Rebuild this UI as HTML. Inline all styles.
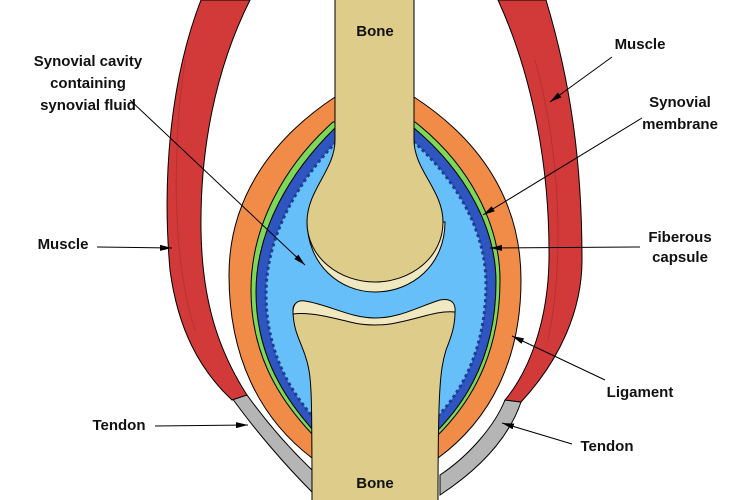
<!DOCTYPE html>
<html><head><meta charset="utf-8"><style>
html,body{margin:0;padding:0;background:#fff}
svg{display:block}
text{font-family:"Liberation Sans",Arial,sans-serif;font-weight:bold;font-size:15px;fill:#111}
</style></head><body>
<svg width="750" height="500" viewBox="0 0 750 500" xmlns="http://www.w3.org/2000/svg">
<defs>
<marker id="ah" markerWidth="12" markerHeight="6" refX="12" refY="3" orient="auto" markerUnits="userSpaceOnUse">
<path d="M0,0 L12,3 L0,6 Z" fill="#000"/>
</marker>
</defs>
<!-- tendons -->
<path d="M232,398 C255,430 285,465 312,492 L312,470 C288,447 265,420 247,395 Z" fill="#b5b5b5" stroke="#000" stroke-width="1"/>
<path d="M505,400 C495,425 470,455 440,475 L440,495 C478,470 508,440 521,402 Z" fill="#b5b5b5" stroke="#000" stroke-width="1"/>
<!-- muscles -->
<path d="M201,0 C170,80 162,180 170,270 C178,330 200,370 232,400 L247,395 C218,350 202,300 201,230 C200,150 215,70 250,0 Z" fill="#d23a3a" stroke="#000" stroke-width="1"/>
<path d="M498,0 C530,70 550,160 549,260 C548,320 530,370 505,400 L521,402 C560,360 582,310 582,260 C582,160 570,80 546,0 Z" fill="#d23a3a" stroke="#000" stroke-width="1"/>
<path d="M185,60 C172,150 172,260 195,330 M535,60 C560,150 565,260 548,340" fill="none" stroke="#b83030" stroke-width="1"/>
<!-- capsule -->
<path d="M335,97 C270,140 229,200 229,275 C229,360 262,420 312,458 L438,458 C490,420 521,360 521,280 C521,200 480,140 414,97 Z" fill="#f08c48" stroke="#000" stroke-width="1"/>
<!-- green membrane -->
<path d="M333,122 C285,165 251,225 251,290 C251,350 275,395 313,435 L438,435 C478,395 500,345 500,280 C500,225 470,165 415,122 Z" fill="#7ed858" stroke="#000" stroke-width="1"/>
<!-- dark blue lining -->
<path d="M335,128 C290,172 256,230 256,292 C256,350 280,393 313,430 L438,430 C474,393 496,345 496,282 C496,228 466,172 414,128 Z" fill="#2f56c0" stroke="#000" stroke-width="1"/>
<!-- cavity -->
<path d="M336,142 C298,182 266,236 266,294 C266,350 289,390 314,418 L436,418 C464,390 486,345 486,284 C486,232 458,182 414,142 Z" fill="#66bff8" stroke="#1e3c90" stroke-width="3" stroke-dasharray="3 3"/>
<!-- top bone cartilage -->
<path d="M307,220 C307,265 340,292 375,292 C412,292 445,265 445,222 L440,222 C430,250 410,270 375,270 C340,270 318,250 312,222 Z" fill="#f0e8c0" stroke="#000" stroke-width="1"/>
<!-- top bone -->
<path d="M335,-2 L335,140 C335,170 307,190 307,222 C307,258 340,282 375,282 C410,282 443,258 443,222 C443,190 414,170 414,140 L414,-2" fill="#ddcc8a" stroke="#000" stroke-width="1"/>
<!-- bottom bone -->
<path d="M293,310 C293,330 300,340 305,355 C312,375 312,390 312,502 L438,502 C438,390 440,370 446,350 C452,335 455,325 455,312 C455,300 448,298 440,302 C420,312 400,322 375,322 C350,322 325,305 305,302 C297,301 293,304 293,310 Z" fill="#ddcc8a" stroke="#000" stroke-width="1"/>
<path d="M293,312 C293,303 298,300 305,301 C330,305 350,318 375,318 C400,318 420,306 440,300 C450,298 456,302 455,312 C440,310 420,318 400,322 C385,326 365,326 350,322 C330,317 310,312 293,314 Z" fill="#f0e8c0" stroke="#000" stroke-width="1"/>
<!-- labels -->
<text x="375" y="36" text-anchor="middle">Bone</text>
<text x="375" y="488" text-anchor="middle">Bone</text>
<text x="88" y="66" text-anchor="middle">Synovial cavity</text>
<text x="88" y="88" text-anchor="middle">containing</text>
<text x="88" y="110" text-anchor="middle">synovial fluid</text>
<text x="640" y="49" text-anchor="middle">Muscle</text>
<text x="680" y="107" text-anchor="middle">Synovial</text>
<text x="680" y="129" text-anchor="middle">membrane</text>
<text x="680" y="242" text-anchor="middle">Fiberous</text>
<text x="680" y="262" text-anchor="middle">capsule</text>
<text x="63" y="249" text-anchor="middle">Muscle</text>
<text x="640" y="397" text-anchor="middle">Ligament</text>
<text x="119" y="430" text-anchor="middle">Tendon</text>
<text x="607" y="451" text-anchor="middle">Tendon</text>
<!-- arrows -->
<g stroke="#000" stroke-width="1" fill="none" marker-end="url(#ah)">
<line x1="130" y1="100" x2="305" y2="265"/>
<line x1="612" y1="57" x2="550" y2="102"/>
<line x1="642" y1="118" x2="483" y2="215"/>
<line x1="640" y1="247" x2="490" y2="248"/>
<line x1="97" y1="247" x2="172" y2="248"/>
<line x1="605" y1="380" x2="512" y2="336"/>
<line x1="155" y1="426" x2="248" y2="425"/>
<line x1="572" y1="444" x2="502" y2="423"/>
</g>
</svg>
</body></html>
